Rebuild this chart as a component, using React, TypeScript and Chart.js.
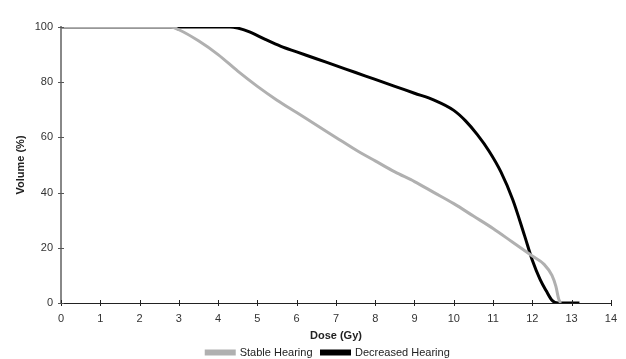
import React, { useEffect, useRef } from "react";
import { Chart, registerables } from "chart.js";

Chart.register(...registerables);

const xTicks = [0, 1, 2, 3, 4, 5, 6, 7, 8, 9, 10, 11, 12, 13, 14];
const yTicks = [0, 20, 40, 60, 80, 100];

const stableDose = [0, 2.8, 3.0, 3.5, 4.0, 4.5, 5.0, 5.5, 6.0, 6.5, 7.0, 7.5, 8.0, 8.5, 9.0, 9.5, 10.0, 10.5, 11.0, 11.5, 12.0, 12.3, 12.5, 12.6, 12.67, 12.72];
const stableVolume = [100, 100, 99, 95, 90, 84, 78.5, 73.5, 69, 64.5, 60, 55.5, 51.5, 47.5, 44, 40, 36, 31.5, 27, 22, 17, 14, 10, 6, 1.5, 0];

const decreasedDose = [0, 4.3, 4.5, 4.8, 5.2, 5.6, 6.0, 6.5, 7.0, 7.5, 8.0, 8.5, 9.0, 9.5, 10.0, 10.3, 10.6, 10.9, 11.2, 11.5, 11.8, 12.0, 12.2, 12.35, 12.5, 12.65, 13.0, 13.2];
const decreasedVolume = [100, 100, 99.6, 98.2, 95.5, 93, 91, 88.5, 86, 83.5, 81, 78.5, 76, 73.5, 69.8, 66, 61, 55, 47.5, 37.5, 24.5, 15.5, 8.5, 4.5, 1, 0, 0, 0];

const seriesNames = ["Stable Hearing", "Decreased Hearing"];

const FONT = "'Liberation Sans', Arial, sans-serif";

const crossTicks = {
  id: "crossTicks",
  afterDraw(chart: any) {
    const ctx = chart.ctx;
    const xs = chart.scales.x;
    const ys = chart.scales.y;
    ctx.save();
    ctx.lineWidth = 1;
    ctx.strokeStyle = "#222";
    xTicks.forEach((v) => {
      const px = Math.round(xs.getPixelForValue(v)) + 0.5;
      ctx.beginPath();
      ctx.moveTo(px, ys.bottom - 3);
      ctx.lineTo(px, ys.bottom + 3);
      ctx.stroke();
    });
    ctx.strokeStyle = "#555";
    yTicks.forEach((v) => {
      const py = Math.round(ys.getPixelForValue(v)) + 0.5;
      ctx.beginPath();
      ctx.moveTo(xs.left - 3, py);
      ctx.lineTo(xs.left + 3, py);
      ctx.stroke();
    });
    ctx.restore();
  },
};

const shiftLegend = {
  id: "shiftLegend",
  afterLayout(chart: any) {
    if (chart.legend) {
      chart.legend.left += 20;
      chart.legend.right += 20;
    }
  },
};

export default function App() {
  const ref = useRef<HTMLCanvasElement>(null);
  useEffect(() => {
    if (!ref.current) return;
    const chart = new Chart(ref.current, {
      type: "line",
      data: {
        datasets: [
          {
            label: seriesNames[0],
            data: stableDose.map((x, i) => ({ x, y: stableVolume[i] })),
            borderColor: "#b0b0b0",
            backgroundColor: "#b0b0b0",
            borderWidth: 3,
            pointRadius: 0,
            cubicInterpolationMode: "monotone",
          },
          {
            label: seriesNames[1],
            data: decreasedDose.map((x, i) => ({ x, y: decreasedVolume[i] })),
            borderColor: "#000000",
            backgroundColor: "#000000",
            borderWidth: 3,
            pointRadius: 0,
            cubicInterpolationMode: "monotone",
          },
        ],
      },
      options: {
        responsive: false,
        animation: false,
        layout: { padding: { top: 27, right: 10, left: 0, bottom: -9 } },
        plugins: {
          tooltip: { enabled: false },
          legend: {
            position: "bottom",
            labels: {
              boxWidth: 28,
              boxHeight: 3,
              padding: 9,
              color: "#222",
              font: { family: FONT, size: 11 },
            },
          },
        },
        scales: {
          x: {
            type: "linear",
            min: 0,
            max: 14,
            afterBuildTicks: (s: any) => {
              s.ticks = xTicks.map((v) => ({ value: v }));
            },
            grid: { display: false, drawTicks: false },
            border: { display: true, color: "#222", width: 1 },
            ticks: { color: "#333", padding: 9, maxRotation: 0, font: { family: FONT, size: 11 } },
            title: {
              display: true,
              text: "Dose (Gy)",
              color: "#222",
              font: { family: FONT, size: 11, weight: "bold" },
              padding: { top: 0, bottom: -4.6 },
            },
            afterFit: (s: any) => {
              s.height = 35;
            },
          },
          y: {
            min: 0,
            max: 100,
            afterBuildTicks: (s: any) => {
              s.ticks = yTicks.map((v) => ({ value: v }));
            },
            grid: { display: false, drawTicks: false },
            border: { display: true, color: "#888", width: 2 },
            ticks: { color: "#333", padding: 8, font: { family: FONT, size: 11 } },
            title: {
              display: true,
              text: "Volume (%)",
              color: "#222",
              font: { family: FONT, size: 11, weight: "bold" },
              padding: { top: 14.4, bottom: 0 },
            },
            afterFit: (s: any) => {
              s.width = 61;
            },
          },
        },
      },
      plugins: [crossTicks, shiftLegend],
    });
    return () => chart.destroy();
  }, []);
  return (
    <div style={{ position: "fixed", left: 0, top: 0, width: 626, height: 359, background: "#fff" }}>
      <canvas ref={ref} width={626} height={359} />
    </div>
  );
}
